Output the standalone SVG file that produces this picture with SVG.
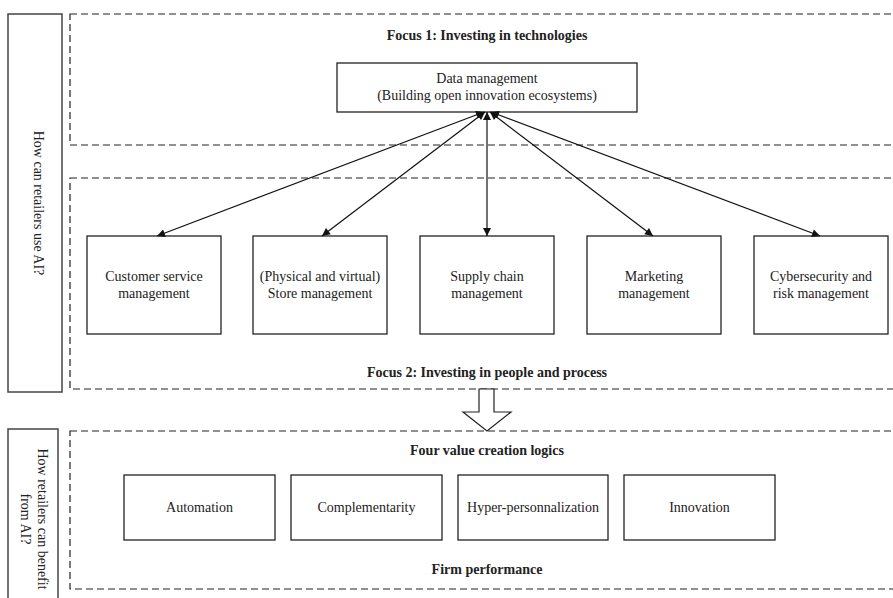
<svg xmlns="http://www.w3.org/2000/svg" width="893" height="598" viewBox="0 0 893 598">
<style>
text{font-family:"Liberation Serif","Times New Roman",serif;fill:#222}
.t{font-size:14px;text-anchor:middle}
.b{font-size:14px;font-weight:bold;text-anchor:middle}
.box{fill:#fff;stroke:#222;stroke-width:1.3}
.side{fill:#fff;stroke:#444;stroke-width:1.5}
.dash{fill:none;stroke:#222;stroke-width:1.2;stroke-dasharray:7,4}
.con{stroke:#111;stroke-width:1.2;fill:none}
</style>
<defs>
<marker id="ah" viewBox="0 0 10 10" refX="10" refY="5" markerWidth="10" markerHeight="8" markerUnits="userSpaceOnUse" orient="auto-start-reverse">
<path d="M0,0 L10,5 L0,10 z" fill="#111"/>
</marker>
</defs>
<rect width="893" height="598" fill="#fff"/>

<g id="side-top">
<rect class="side" x="8" y="14" width="54" height="378"/>
<text class="t" transform="translate(34,203) rotate(90)">How can retailers use AI?</text>
</g>
<g id="side-bottom">
<rect class="side" x="8" y="429" width="50" height="180"/>
<text class="t" transform="translate(38,519) rotate(90)">How retailers can benefit</text>
<text class="t" transform="translate(21,519) rotate(90)">from AI?</text>
</g>

<g id="focus1">
<rect class="dash" x="70" y="14" width="840" height="131"/>
<text class="b" x="487" y="40">Focus 1: Investing in technologies</text>
</g>
<g id="focus2">
<rect class="dash" x="70" y="178" width="840" height="211"/>
<text class="b" x="487" y="377">Focus 2: Investing in people and process</text>
</g>
<g id="value">
<rect class="dash" x="70" y="431" width="840" height="158"/>
<text class="b" x="487" y="455">Four value creation logics</text>
<text class="b" x="487" y="574">Firm performance</text>
</g>

<g id="data">
<rect class="box" x="337" y="63" width="300" height="49"/>
<text class="t" x="487" y="83">Data management</text>
<text class="t" x="487" y="100">(Building open innovation ecosystems)</text>
</g>

<g id="customer">
<rect class="box" x="87" y="236" width="134" height="98"/>
<text class="t" x="154" y="281">Customer service</text>
<text class="t" x="154" y="298">management</text>
</g>
<g id="store">
<rect class="box" x="253" y="236" width="134" height="98"/>
<text class="t" x="320" y="281">(Physical and virtual)</text>
<text class="t" x="320" y="298">Store management</text>
</g>
<g id="supply">
<rect class="box" x="420" y="236" width="134" height="98"/>
<text class="t" x="487" y="281">Supply chain</text>
<text class="t" x="487" y="298">management</text>
</g>
<g id="marketing">
<rect class="box" x="587" y="236" width="134" height="98"/>
<text class="t" x="654" y="281">Marketing</text>
<text class="t" x="654" y="298">management</text>
</g>
<g id="cyber">
<rect class="box" x="754" y="236" width="134" height="98"/>
<text class="t" x="821" y="281">Cybersecurity and</text>
<text class="t" x="821" y="298">risk management</text>
</g>

<g id="automation">
<rect class="box" x="124" y="475" width="151" height="65"/>
<text class="t" x="199.5" y="512">Automation</text>
</g>
<g id="complementarity">
<rect class="box" x="291" y="475" width="151" height="65"/>
<text class="t" x="366.5" y="512">Complementarity</text>
</g>
<g id="hyper">
<rect class="box" x="458" y="475" width="150" height="65"/>
<text class="t" x="533" y="512">Hyper-personnalization</text>
</g>
<g id="innovation">
<rect class="box" x="624" y="475" width="151" height="65"/>
<text class="t" x="699.5" y="512">Innovation</text>
</g>

<g id="connectors">
<line class="con" x1="484" y1="112" x2="157" y2="236" marker-start="url(#ah)" marker-end="url(#ah)"/>
<line class="con" x1="485" y1="112" x2="322" y2="236" marker-start="url(#ah)" marker-end="url(#ah)"/>
<line class="con" x1="487" y1="112" x2="487" y2="236" marker-start="url(#ah)" marker-end="url(#ah)"/>
<line class="con" x1="490" y1="112" x2="653" y2="236" marker-start="url(#ah)" marker-end="url(#ah)"/>
<line class="con" x1="491" y1="112" x2="820" y2="236" marker-start="url(#ah)" marker-end="url(#ah)"/>
<path d="M479,389 L494,389 L494,412 L511,412 L487,431 L463,412 L479,412 Z" fill="#fff" stroke="#222" stroke-width="1.2"/>
</g>
</svg>
